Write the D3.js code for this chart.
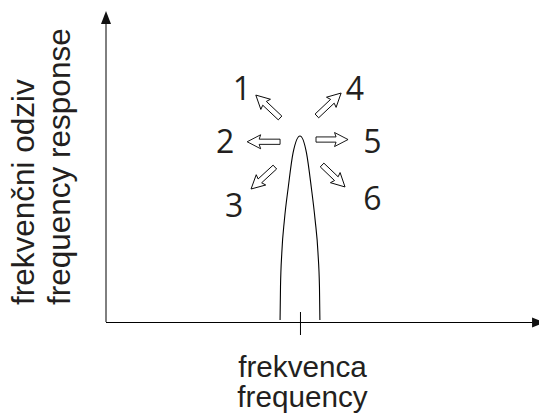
<!DOCTYPE html>
<html>
<head>
<meta charset="utf-8">
<script src="https://cdn.jsdelivr.net/npm/d3@7"></script>
<style>
  html, body { margin: 0; padding: 0; background: #fff; }
  svg { display: block; }
</style>
</head>
<body>
<svg id="chart" width="539" height="416"></svg>
<script>
// ---- data (frequency units 0..100, response units: peak = 100) ----
const curveFreq = [40.2, 40.3, 40.6, 41.2, 42.1, 43.2, 44.8, 46.3, 47.4, 48.3, 48.96, 49.3, 49.4];
const curveResp = [1.1, 18.8, 37.1, 54.8, 72.6, 90.9, 100, 90.9, 72.6, 54.8, 37.1, 18.8, 1.1];
const peakFreq = 44.8;

const arrowLabels = ["1", "2", "3", "4", "5", "6"];
const arrowTailF = [40.2, 40.2, 39.0, 48.7, 48.5, 49.9];
const arrowTailR = [109.7, 96.9, 83.3, 110.8, 98.1, 84.4];
const arrowTipF  = [34.6, 32.6, 33.5, 54.3, 55.9, 55.2];
const arrowTipR  = [122.0, 96.9, 71.5, 123.1, 98.1, 72.6];
const labelF = [31.4, 27.5, 29.6, 57.5, 61.5, 61.5];
const labelR = [119.4, 90.9, 56.5, 119.4, 90.9, 60.2];

const xTitle = ["frekvenca", "frequency"];
const yTitle = ["frekvenčni odziv", "frequency response"];
const axisMaxF = 101.4;
const axisMaxR = 167.2;

// ---- scales ----
const x = d3.scaleLinear().domain([0, 100]).range([106, 539]);
const y = d3.scaleLinear().domain([0, 100]).range([322, 136]);

const svg = d3.select("#chart");

// axes
svg.append("line")
  .attr("x1", x(0)).attr("x2", x(0))
  .attr("y1", y(0)).attr("y2", y(axisMaxR) + 10)
  .attr("stroke", "#000").attr("stroke-width", 1);
svg.append("path")
  .attr("d", `M${x(0)},${y(axisMaxR)} L${x(0) - 5},${y(axisMaxR) + 13} L${x(0) + 5},${y(axisMaxR) + 13} Z`)
  .attr("fill", "#111");

svg.append("line")
  .attr("x1", x(0)).attr("x2", x(axisMaxF) - 10)
  .attr("y1", y(0) + 0.5).attr("y2", y(0) + 0.5)
  .attr("stroke", "#000").attr("stroke-width", 1);
svg.append("path")
  .attr("d", `M${x(axisMaxF)},${y(0) + 0.5} L${x(axisMaxF) - 13},${y(0) - 4.5} L${x(axisMaxF) - 13},${y(0) + 5.5} Z`)
  .attr("fill", "#111");

// tick at peak frequency
svg.append("line")
  .attr("x1", x(peakFreq) + 0.5).attr("x2", x(peakFreq) + 0.5)
  .attr("y1", y(0) - 10).attr("y2", y(0) + 13)
  .attr("stroke", "#000").attr("stroke-width", 1);

// response curve
const pts = curveFreq.map((f, i) => [x(f), y(curveResp[i])]);
svg.append("path")
  .attr("d", d3.line().curve(d3.curveMonotoneX)(pts))
  .attr("fill", "none").attr("stroke", "#000").attr("stroke-width", 1.1);

// hollow arrows
arrowLabels.forEach((lab, i) => {
  const x0 = x(arrowTailF[i]), y0 = y(arrowTailR[i]);
  const x1 = x(arrowTipF[i]),  y1 = y(arrowTipR[i]);
  const L = Math.hypot(x1 - x0, y1 - y0);
  const ang = Math.atan2(y1 - y0, x1 - x0) * 180 / Math.PI;
  const hl = 12, hw = 7, sw = 2.6;
  const d = `M0,${-sw} L${L - hl},${-sw} L${L - hl - 1.5},${-hw} L${L},0 L${L - hl - 1.5},${hw} L${L - hl},${sw} L0,${sw} Z`;
  svg.append("path")
    .attr("d", d)
    .attr("transform", `translate(${x0},${y0}) rotate(${ang})`)
    .attr("fill", "#fff").attr("stroke", "#000").attr("stroke-width", 0.9)
    .attr("stroke-linejoin", "miter");
  svg.append("text")
    .attr("x", x(labelF[i])).attr("y", y(labelR[i]))
    .attr("text-anchor", "middle")
    .attr("font-family", "'Open Sans', sans-serif")
    .attr("font-size", 32)
    .attr("fill", "#231f20")
    .text(lab);
});

// axis titles
svg.append("text")
  .attr("text-anchor", "middle")
  .attr("font-family", "'Liberation Sans', Arial, sans-serif")
  .attr("font-size", 29.7).attr("fill", "#231f20")
  .selectAll("tspan").data(xTitle).join("tspan")
  .attr("x", 302.5)
  .attr("y", (d, i) => 377 + i * 30)
  .text(d => d);

svg.append("g")
  .attr("transform", "translate(0,305) rotate(-90)")
  .append("text")
  .attr("text-anchor", "start")
  .attr("font-family", "'Liberation Sans', Arial, sans-serif")
  .attr("font-size", 31.5).attr("fill", "#231f20")
  .selectAll("tspan").data(yTitle).join("tspan")
  .attr("x", 0)
  .attr("y", (d, i) => 34 + i * 36)
  .text(d => d);
</script>
</body>
</html>
